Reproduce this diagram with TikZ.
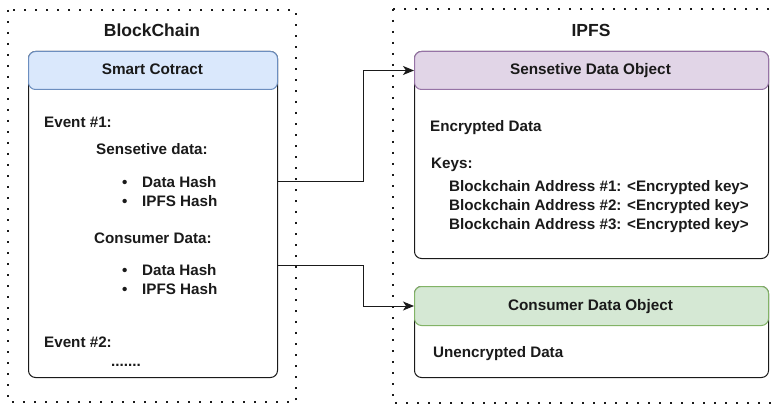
\documentclass[tikz,border=0pt]{standalone}
\usepackage{fontspec}
\setmainfont{Liberation Sans}
\usetikzlibrary{arrows.meta}

% draw.io-like palette
\definecolor{blueFill}{HTML}{DAE8FC}
\definecolor{blueLine}{HTML}{6C8EBF}
\definecolor{purpleFill}{HTML}{E1D5E7}
\definecolor{purpleLine}{HTML}{9673A6}
\definecolor{greenFill}{HTML}{D5E8D4}
\definecolor{greenLine}{HTML}{82B366}
\definecolor{ink}{HTML}{1A1A1A}

\tikzset{
  group/.style={draw=ink, line width=1.8pt, dash pattern=on 1.8pt off 9.2pt},
  grouptitle/.style={font=\bfseries\fontsize{17.5}{20}\selectfont, text=ink, inner sep=0pt, anchor=base},
  bodybox/.style={draw=ink, fill=white, line width=1pt, rounded corners=7pt, inner sep=0pt, anchor=north west},
  headbox/.style={line width=1pt, rounded corners=7pt, inner sep=0pt, anchor=north west},
  headtext/.style={font=\bfseries\fontsize{15.3}{18}\selectfont, text=ink, inner sep=0pt, anchor=base},
  txt/.style={font=\bfseries\fontsize{15.2}{18}\selectfont, text=ink, inner sep=0pt, anchor=base west},
  conn/.style={draw=ink, line width=1pt, -{Stealth[length=11pt, width=9pt, inset=3pt]}},
}

\begin{document}
\begin{tikzpicture}[x=1pt, y=-1pt]
\useasboundingbox (0,0) rectangle (775,406);

% dotted containers
\draw[group] (8,10) rectangle (296,402);
\draw[group] (393,9) rectangle (803,403);
\node[grouptitle] (bctitle) at (152,37) {BlockChain};
\node[grouptitle] (ipfstitle) at (591,36.5) {IPFS};

% Smart contract swimlane
\node[bodybox, minimum width=249pt, minimum height=326pt] (sc) at (28,51) {};
\node[headbox, fill=blueFill, draw=blueLine, minimum width=249pt, minimum height=38pt] (sch) at (28,51) {};
\node[headtext] (scl) at (152.5,75) {Smart Cotract};

\node[txt] (ev1) at (44,128) {Event \#1:};
\node[txt] (sens) at (96,154) {Sensetive data:};
\node[txt] (b1) at (122,187.5) {•};
\node[txt] (dh1) at (142,187.5) {Data Hash};
\node[txt] (b2) at (122,206) {•};
\node[txt] (ih1) at (142,206) {IPFS Hash};
\node[txt] (cons) at (94,243.5) {Consumer Data:};
\node[txt] (b3) at (122,275.5) {•};
\node[txt] (dh2) at (142,275.5) {Data Hash};
\node[txt] (b4) at (122,294.5) {•};
\node[txt] (ih2) at (142,294.5) {IPFS Hash};
\node[txt] (ev2) at (44,347.5) {Event \#2:};
\node[txt] (dots) at (111,366) {.......};

% Sensitive data object
\node[bodybox, minimum width=354pt, minimum height=207pt] (sdo) at (414,51) {};
\node[headbox, fill=purpleFill, draw=purpleLine, minimum width=354pt, minimum height=38pt] (sdoh) at (414,51) {};
\node[headtext] (sdol) at (590.5,75) {Sensetive Data Object};
\node[txt] (enc) at (430,132) {Encrypted Data};
\node[txt] (keys) at (431,168.5) {Keys:};
\node[txt] (k1) at (449,191) {Blockchain Address \#1: <Encrypted key>};
\node[txt] (k2) at (449,210) {Blockchain Address \#2: <Encrypted key>};
\node[txt] (k3) at (449,229.5) {Blockchain Address \#3: <Encrypted key>};

% Consumer data object
\node[bodybox, minimum width=354pt, minimum height=91pt] (cdo) at (414,286) {};
\node[headbox, fill=greenFill, draw=greenLine, minimum width=354pt, minimum height=39pt] (cdoh) at (414,286) {};
\node[headtext] (cdol) at (590.5,310.5) {Consumer Data Object};
\node[txt] (unenc) at (433,357) {Unencrypted Data};

% connectors
\draw[conn] (sc.east |- 0,181) -- ++(85,0) |- (sdoh.west);
\draw[conn] (sc.east |- 0,265) -- ++(85,0) |- (cdoh.west);
\end{tikzpicture}
\end{document}
